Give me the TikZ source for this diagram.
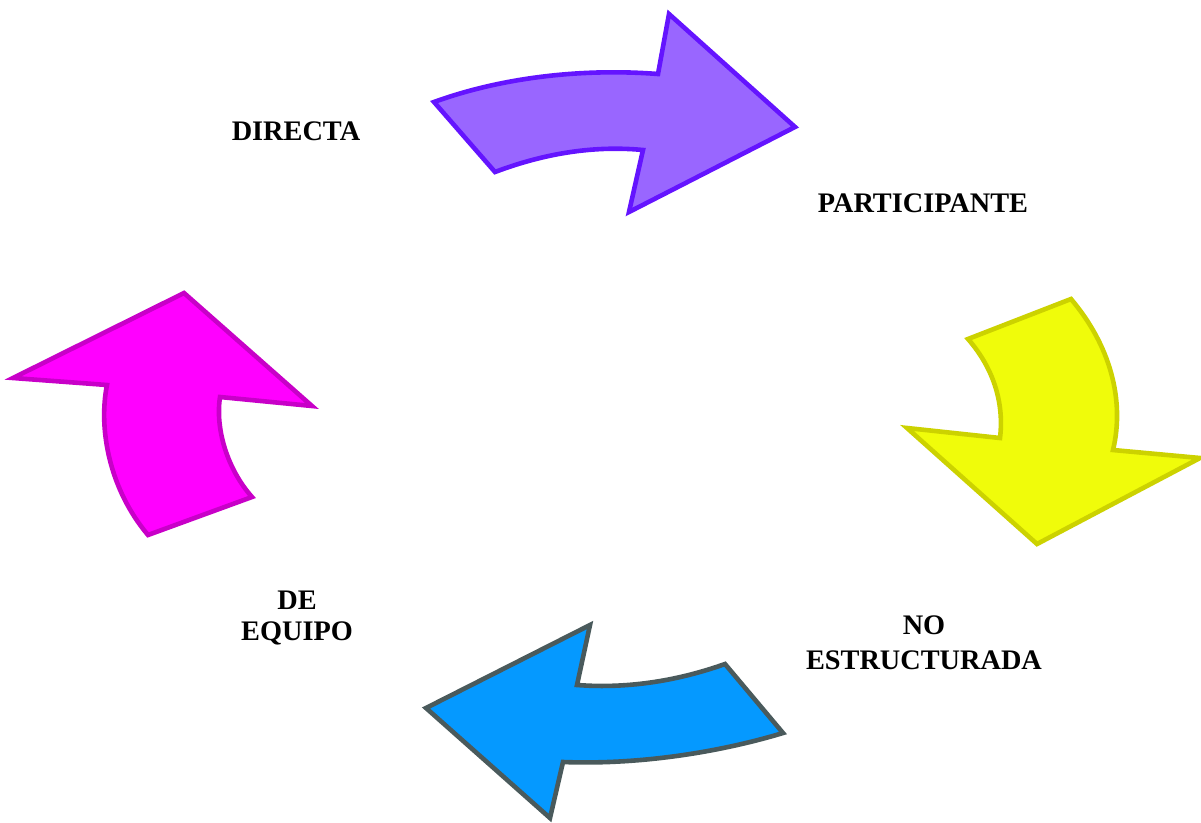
\documentclass[tikz,border=0pt]{standalone}
\usepackage{fontspec}
\setmainfont{Liberation Serif}
\definecolor{purplefill}{HTML}{9966FF}
\definecolor{purpleline}{HTML}{6414FF}
\definecolor{yellowfill}{HTML}{F0FC0A}
\definecolor{yellowline}{HTML}{CCD200}
\definecolor{bluefill}{HTML}{0599FF}
\definecolor{blueline}{HTML}{4A5A5C}
\definecolor{magfill}{HTML}{FF00FF}
\definecolor{magline}{HTML}{C800C8}
\tikzset{
  arrowshape/.style={line width=4.6pt, line join=miter},
  lbl/.style={font=\fontsize{28.3}{31}\selectfont\bfseries, inner sep=0pt, align=center, anchor=north}
}
\begin{document}
\begin{tikzpicture}[x=1pt,y=-1pt]
\useasboundingbox (0,0) rectangle (1201,822);
% purple arrow (top)
\draw[arrowshape, fill=purplefill, draw=purpleline]
  (434,102) .. controls (500,78) and (580,68) .. (658,74)
  -- (669,14) -- (795,127) -- (629,212) -- (643,150)
  .. controls (590,145) and (540,155) .. (495,172) -- cycle;
% yellow arrow (right)
\draw[arrowshape, fill=yellowfill, draw=yellowline]
  (1071,299) .. controls (1110,345) and (1125,400) .. (1113,450)
  -- (1200,458) -- (1037,544) -- (907,428) -- (1000,438)
  .. controls (1004,405) and (995,370) .. (968,339) -- cycle;
% blue arrow (bottom)
\draw[arrowshape, fill=bluefill, draw=blueline]
  (783,733) .. controls (720,752) and (640,765) .. (563,762)
  -- (550,818) -- (426,708) -- (590,625) -- (577,685)
  .. controls (630,689) and (680,680) .. (725,664) -- cycle;
% magenta arrow (left)
\draw[arrowshape, fill=magfill, draw=magline]
  (148,535) .. controls (110,490) and (98,430) .. (107,385)
  -- (13,378) -- (184,293) -- (312,406) -- (220,397)
  .. controls (215,430) and (228,470) .. (252,497) -- cycle;
% labels
\node[lbl] (directa) at (296,122) {DIRECTA};
\node[lbl] (participante) at (923,194) {PARTICIPANTE};
\node[lbl, font=\fontsize{28.3}{35}\selectfont\bfseries] (noestr) at (924,616) {NO\\ESTRUCTURADA};
\node[lbl] (equipo) at (297,591) {DE\\EQUIPO};
\end{tikzpicture}
\end{document}
